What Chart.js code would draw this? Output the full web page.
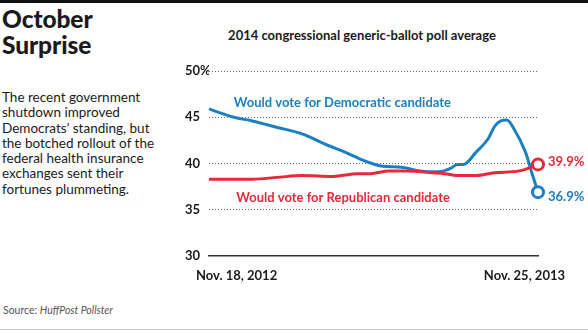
<!DOCTYPE html>
<html>
<head>
<meta charset="utf-8">
<script src="https://cdn.jsdelivr.net/npm/chart.js@4"></script>
<style>
  html, body { margin: 0; padding: 0; background: #fff; }
  body { width: 588px; height: 331px; position: relative; overflow: hidden; font-family: Lato, "Open Sans", sans-serif; color: #1a1a1a; }
  .topbar { position: absolute; left: 0; top: 0; width: 588px; height: 3px; background: #111; }
  .bottombar { position: absolute; left: 0; top: 329px; width: 588px; height: 1px; background: #ccc; }
  h1 { position: absolute; left: 2px; top: 6px; margin: 0; font-size: 24.5px; line-height: 26px; font-weight: 900; letter-spacing: -0.1px; }
  .dek { position: absolute; left: 2px; top: 90px; margin: 0; font-size: 13.5px; line-height: 15.3px; white-space: nowrap; }
  .source { position: absolute; left: 3px; top: 304px; font-size: 10.5px; color: #555; }
  .chart-title { position: absolute; left: 200px; width: 324px; top: 27px; text-align: center; font-size: 13px; font-weight: bold; }
  #wrap { position: absolute; left: 170px; top: 60px; width: 418px; height: 240px; }
</style>
</head>
<body>
<div class="topbar"></div>
<h1>October<br>Surprise</h1>
<p class="dek">The recent government<br>shutdown improved<br>Democrats’ standing, but<br>the botched rollout of the<br>federal health insurance<br>exchanges sent their<br>fortunes plummeting.</p>
<div class="chart-title">2014 congressional generic-ballot poll average</div>
<div id="wrap"><canvas id="pollChart" width="418" height="240"></canvas></div>
<div class="source">Source: <i>HuffPost Pollster</i></div>
<div class="bottombar"></div>

<script>
// weeks since Nov. 18, 2012
const demWeeks = [0, 4, 7, 11, 15, 19, 22, 25, 28, 31, 34, 37, 39, 40, 41, 43, 45, 46, 47, 48, 49, 51, 52, 53];
const demValues = [45.9, 45.0, 44.6, 43.9, 43.2, 42.0, 41.2, 40.3, 39.7, 39.6, 39.2, 39.1, 39.5, 39.9, 39.9, 41.2, 42.7, 44.0, 44.6, 44.7, 43.9, 41.2, 39.0, 36.9];

const repWeeks = [0, 7, 11, 15, 20, 24, 26, 29, 32, 36, 38, 40, 43, 46, 50, 53];
const repValues = [38.3, 38.3, 38.5, 38.7, 38.6, 38.9, 38.9, 39.2, 39.2, 39.0, 38.9, 38.7, 38.7, 39.0, 39.2, 39.9];

const yTicks = [30, 35, 40, 45, 50];
const dateLabels = ["Nov. 18, 2012", "Nov. 25, 2013"];
const seriesLabels = ["Would vote for Democratic candidate", "Would vote for Republican candidate"];

const BLUE = "#1b80c3";
const RED = "#e52a3a";

function toPoints(xs, ys) {
  return xs.map((x, i) => ({ x: x, y: ys[i] }));
}

function lastOnly(size) {
  return (ctx) => (ctx.dataIndex === ctx.dataset.data.length - 1 ? size : 0);
}

// 标注：日期、线名、末端数值
const annotatePlugin = {
  id: "annotate",
  afterDatasetsDraw(chart) {
    const { ctx, scales } = chart;
    const x = scales.x;
    const y = scales.y;
    ctx.save();
    ctx.textBaseline = "middle";

    ctx.font = "bold 13px Lato, sans-serif";
    ctx.fillStyle = "#1a1a1a";
    ctx.textAlign = "left";
    ctx.fillText(dateLabels[0], x.getPixelForValue(demWeeks[0]) - 13, 216);
    ctx.textAlign = "right";
    ctx.fillText(dateLabels[1], x.getPixelForValue(demWeeks[demWeeks.length - 1]) + 27, 216);

    ctx.textAlign = "left";
    ctx.fillStyle = BLUE;
    ctx.fillText(seriesLabels[0], x.getPixelForValue(4), y.getPixelForValue(46.6));
    ctx.fillStyle = RED;
    ctx.fillText(seriesLabels[1], x.getPixelForValue(4.4), y.getPixelForValue(36.3));

    const lastDem = demValues[demValues.length - 1];
    const lastRep = repValues[repValues.length - 1];
    const xEnd = x.getPixelForValue(demWeeks[demWeeks.length - 1]) + 10;
    ctx.fillStyle = RED;
    ctx.fillText(lastRep.toFixed(1) + "%", xEnd, y.getPixelForValue(lastRep) - 3);
    ctx.fillStyle = BLUE;
    ctx.fillText(lastDem.toFixed(1) + "%", xEnd, y.getPixelForValue(lastDem) + 5);
    ctx.restore();
  },
};

new Chart(document.getElementById("pollChart"), {
  type: "line",
  data: {
    datasets: [
      {
        label: seriesLabels[1],
        data: toPoints(repWeeks, repValues),
        borderColor: RED,
        borderWidth: 3,
        clip: false,
        cubicInterpolationMode: "monotone",
        pointRadius: lastOnly(5.5),
        pointBorderWidth: 3,
        pointBackgroundColor: "#fff",
        pointBorderColor: RED,
      },
      {
        label: seriesLabels[0],
        data: toPoints(demWeeks, demValues),
        borderColor: BLUE,
        borderWidth: 3,
        clip: false,
        cubicInterpolationMode: "monotone",
        pointRadius: lastOnly(5.5),
        pointBorderWidth: 3,
        pointBackgroundColor: "#fff",
        pointBorderColor: BLUE,
      },
    ],
  },
  options: {
    responsive: false,
    animation: false,
    layout: { padding: { left: 15, right: 50, top: 11, bottom: 0 } },
    plugins: { legend: { display: false }, tooltip: { enabled: false } },
    scales: {
      x: {
        type: "linear",
        min: 0,
        max: 53,
        ticks: { display: false },
        grid: { display: false },
        border: { display: true, color: "#333", width: 1.5 },
        afterFit: (scale) => { scale.height = 44; },
      },
      y: {
        min: 30,
        max: 50,
        afterBuildTicks: (scale) => { scale.ticks = yTicks.map((v) => ({ value: v })); },
        ticks: {
          crossAlign: "far",
          color: "#1a1a1a",
          font: { family: "Lato, sans-serif", size: 13, weight: "bold" },
          callback: (v) => (v === 50 ? "50%" : v),
        },
        grid: {
          drawTicks: false,
          color: (ctx) => (ctx.tick && ctx.tick.value === 30 ? "rgba(0,0,0,0)" : "#666"),
        },
        border: { display: false, dash: [1, 2] },
        afterFit: (scale) => { scale.width = 24; },
      },
    },
  },
  plugins: [annotatePlugin],
});
</script>
</body>
</html>
